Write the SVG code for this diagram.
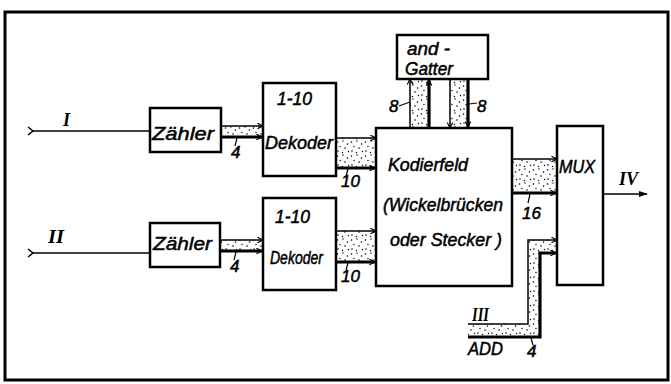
<svg xmlns="http://www.w3.org/2000/svg" width="671" height="384" viewBox="0 0 671 384">
<defs>
<style>
.box{fill:#fff;stroke:#000;stroke-width:2.5}
.t{font-family:"Liberation Sans",Arial,sans-serif;font-style:italic;font-size:18px;fill:#000;stroke:#000;stroke-width:0.5}
.n{font-family:"Liberation Sans",Arial,sans-serif;font-style:italic;font-size:17px;fill:#000;stroke:#000;stroke-width:0.5}
.r{font-family:"Liberation Serif","Times New Roman",serif;font-style:italic;font-weight:bold;font-size:18px;fill:#000}
.thin{fill:none;stroke:#000;stroke-width:1.5}
.thick{fill:none;stroke:#000;stroke-width:3.2}
.tick{fill:none;stroke:#000;stroke-width:1.2}
.band{fill:url(#dots);stroke:none}
</style>
<pattern id="dots" width="14" height="14" patternUnits="userSpaceOnUse">
<rect width="14" height="14" fill="#fff"/>
<circle cx="1.5" cy="2" r="0.8" fill="#000"/>
<circle cx="7" cy="1" r="0.7" fill="#000"/>
<circle cx="11.5" cy="4" r="0.8" fill="#000"/>
<circle cx="4" cy="6.5" r="0.7" fill="#000"/>
<circle cx="9" cy="8" r="0.8" fill="#000"/>
<circle cx="2" cy="11" r="0.8" fill="#000"/>
<circle cx="6.5" cy="12.5" r="0.7" fill="#000"/>
<circle cx="12.5" cy="11.5" r="0.7" fill="#000"/>
</pattern>
<marker id="ah" viewBox="0 0 10 10" refX="9" refY="5" markerWidth="7" markerHeight="7" markerUnits="userSpaceOnUse" orient="auto">
<path d="M1,1 L9,5 L1,9" fill="none" stroke="#000" stroke-width="1.6"/>
</marker>
<marker id="ahf" viewBox="0 0 10 10" refX="9" refY="5" markerWidth="9" markerHeight="9" markerUnits="userSpaceOnUse" orient="auto">
<path d="M0,1.5 L10,5 L0,8.5 Z" fill="#000"/>
</marker>
</defs>

<rect x="5" y="12" width="663" height="368" fill="none" stroke="#000" stroke-width="3"/>

<g id="connectors">
<path class="thin" d="M28,127 L33,131 L28,135"/>
<line class="thin" x1="33" y1="131" x2="150" y2="131"/>
<path class="thin" d="M28,249 L33,253 L28,257"/>
<line class="thin" x1="33" y1="253" x2="150" y2="253"/>

<rect class="band" x="221" y="126" width="42" height="11"/>
<line class="thin" x1="221" y1="126" x2="263" y2="126" marker-end="url(#ah)"/>
<line class="thick" x1="221" y1="137" x2="262" y2="137" marker-end="url(#ah)"/>
<rect class="band" x="336" y="138" width="40" height="30"/>
<line class="thin" x1="336" y1="138" x2="376" y2="138" marker-end="url(#ah)"/>
<line class="thick" x1="336" y1="168" x2="375" y2="168" marker-end="url(#ah)"/>
<rect class="band" x="220" y="240" width="43" height="11"/>
<line class="thin" x1="220" y1="240" x2="263" y2="240" marker-end="url(#ah)"/>
<line class="thick" x1="220" y1="251" x2="262" y2="251" marker-end="url(#ah)"/>
<rect class="band" x="336" y="231" width="40" height="31"/>
<line class="thin" x1="336" y1="231" x2="376" y2="231" marker-end="url(#ah)"/>
<line class="thick" x1="336" y1="262" x2="375" y2="262" marker-end="url(#ah)"/>
<rect class="band" x="410" y="79" width="19" height="49"/>
<line class="thin" x1="410" y1="128" x2="410" y2="79" marker-end="url(#ah)"/>
<line class="thick" x1="429" y1="128" x2="429" y2="80" marker-end="url(#ah)"/>
<rect class="band" x="450" y="79" width="18" height="49"/>
<line class="thin" x1="450" y1="79" x2="450" y2="128" marker-end="url(#ah)"/>
<line class="thick" x1="468" y1="79" x2="468" y2="127" marker-end="url(#ah)"/>
<rect class="band" x="512" y="159" width="45" height="34"/>
<line class="thin" x1="512" y1="159" x2="557" y2="159" marker-end="url(#ah)"/>
<line class="thick" x1="512" y1="193" x2="556" y2="193" marker-end="url(#ah)"/>
<path class="band" d="M468,324 L528,324 L528,240 L557,240 L557,253 L540,253 L540,337 L468,337 Z"/>
<path class="thin" d="M468,324 L528,324 L528,240 L557,240" marker-end="url(#ah)"/>
<path class="thick" d="M468,337 L540,337 L540,253 L556,253" marker-end="url(#ah)"/>
<line class="thin" x1="603" y1="194" x2="647" y2="194" marker-end="url(#ahf)"/>

<line class="tick" x1="237" y1="138" x2="235" y2="146"/>
<line class="tick" x1="348" y1="169" x2="346" y2="176"/>
<line class="tick" x1="236" y1="252" x2="234" y2="260"/>
<line class="tick" x1="348" y1="263" x2="346" y2="270"/>
<line class="tick" x1="530" y1="194" x2="528" y2="203"/>
<line class="tick" x1="399" y1="106" x2="410" y2="102"/>
<line class="tick" x1="469" y1="104" x2="477" y2="103"/>
<line class="tick" x1="531" y1="338" x2="533" y2="345"/>
</g>

<g id="labels">
<text class="r" x="63" y="126">I</text>
<text class="r" x="48" y="243" textLength="16" lengthAdjust="spacingAndGlyphs">II</text>
<text class="r" x="472" y="321" textLength="17" lengthAdjust="spacingAndGlyphs">III</text>
<text class="r" x="619" y="185" textLength="19" lengthAdjust="spacingAndGlyphs">IV</text>
<text class="t" x="468" y="355" font-size="16" textLength="35" lengthAdjust="spacingAndGlyphs">ADD</text>
<text class="n" x="231" y="158">4</text>
<text class="n" x="341" y="187">10</text>
<text class="n" x="230" y="272">4</text>
<text class="n" x="341" y="282">10</text>
<text class="n" x="522" y="219">16</text>
<text class="n" x="389" y="112">8</text>
<text class="n" x="477" y="112">8</text>
<text class="n" x="527" y="357">4</text>
</g>

<g id="zaehler1">
<rect class="box" x="150" y="108" width="71" height="44"/>
<text class="t" x="152" y="140" textLength="62" lengthAdjust="spacingAndGlyphs">Zähler</text>
</g>
<g id="zaehler2">
<rect class="box" x="150" y="223" width="70" height="44"/>
<text class="t" x="153" y="250" textLength="59" lengthAdjust="spacingAndGlyphs">Zähler</text>
</g>
<g id="dekoder1">
<rect class="box" x="263" y="83" width="73" height="93"/>
<text class="t" x="277" y="105" textLength="35" lengthAdjust="spacingAndGlyphs">1-10</text>
<text class="t" x="265" y="149" textLength="68" lengthAdjust="spacingAndGlyphs">Dekoder</text>
</g>
<g id="dekoder2">
<rect class="box" x="263" y="198" width="73" height="92"/>
<text class="t" x="275" y="223" textLength="35" lengthAdjust="spacingAndGlyphs">1-10</text>
<text class="t" x="270" y="264" font-size="16" textLength="53" lengthAdjust="spacingAndGlyphs">Dekoder</text>
</g>
<g id="and-gatter">
<rect class="box" x="397" y="35" width="91" height="44"/>
<text class="t" x="407" y="55" textLength="43" lengthAdjust="spacingAndGlyphs">and -</text>
<text class="t" x="405" y="75" textLength="48" lengthAdjust="spacingAndGlyphs">Gatter</text>
</g>
<g id="kodierfeld">
<rect class="box" x="376" y="128" width="136" height="158"/>
<text class="t" x="388" y="171" textLength="80" lengthAdjust="spacingAndGlyphs">Kodierfeld</text>
<text class="t" x="383" y="211" textLength="120" lengthAdjust="spacingAndGlyphs">(Wickelbrücken</text>
<text class="t" x="390" y="246" textLength="112" lengthAdjust="spacingAndGlyphs">oder Stecker )</text>
</g>
<g id="mux">
<rect class="box" x="557" y="126" width="46" height="159"/>
<text class="t" x="559" y="173" textLength="36" lengthAdjust="spacingAndGlyphs">MUX</text>
</g>
</svg>
